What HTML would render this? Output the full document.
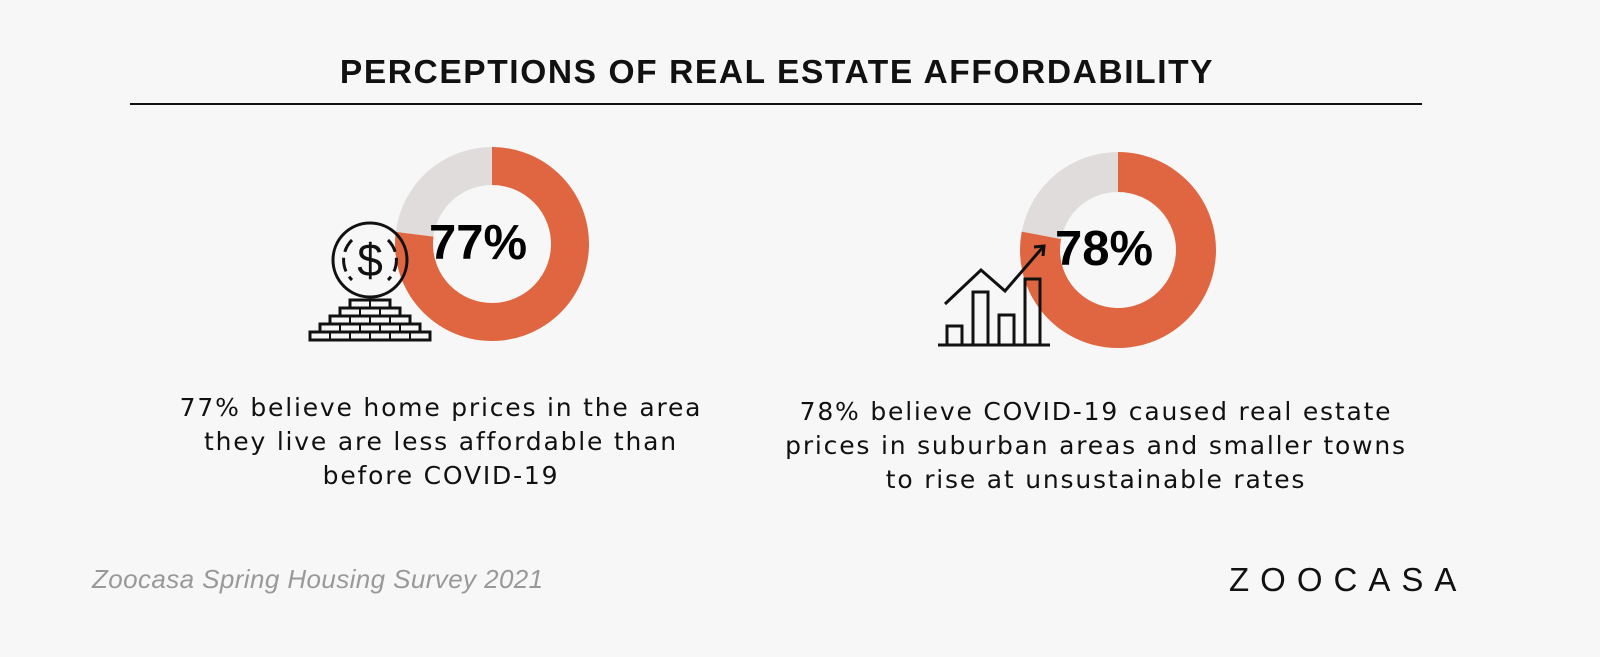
<!DOCTYPE html>
<html><head><meta charset="utf-8"><style>
body{margin:0;width:1600px;height:657px;background:#f7f7f7;font-family:"Liberation Sans",sans-serif;overflow:hidden;position:relative}
.t{position:absolute;text-align:center;color:#111}
.d{font-family:"DejaVu Sans",sans-serif;font-size:25px;letter-spacing:1.8px;line-height:34px}
</style></head><body>
<div class="t" style="left:0;width:1554px;top:54px;font-size:33.5px;font-weight:bold;letter-spacing:1.6px">PERCEPTIONS OF REAL ESTATE AFFORDABILITY</div>
<div style="position:absolute;left:130px;top:103px;width:1292px;height:2px;background:#111"></div>
<svg id="s" width="1600" height="657" style="position:absolute;left:0;top:0">
<g fill="none" stroke="#111" stroke-width="3">
<circle cx="370" cy="260" r="37"/>
<path d="M352 240 A28 28 0 0 0 352 280 M388 240 A28 28 0 0 1 388 280" stroke-dasharray="14 6"/>
<text x="370" y="276" font-size="46" text-anchor="middle" fill="#111" stroke="none" font-family="Liberation Sans">$</text>
<rect x="350" y="300" width="40" height="8"/><rect x="340" y="308" width="60" height="8"/><rect x="330" y="316" width="80" height="8"/><rect x="320" y="324" width="100" height="8"/><rect x="310" y="332" width="120" height="8"/>
<path d="M370 300v8M360 308v8M380 308v8M350 316v8M370 316v8M390 316v8M340 324v8M360 324v8M380 324v8M400 324v8M330 332v8M350 332v8M370 332v8M390 332v8M410 332v8" stroke-width="2"/>
</g>
<g fill="none" stroke="#111" stroke-width="3">
<line x1="938" y1="345" x2="1050" y2="345"/>
<rect x="947" y="326" width="15" height="19"/><rect x="973" y="292" width="15" height="53"/><rect x="999" y="315" width="15" height="30"/><rect x="1025" y="279" width="15" height="66"/>
<polyline points="945,304 981,270 1005,291 1043,247"/><polyline points="1034,247 1044,246 1043,256"/>
</g>
</svg>
<div class="t d" style="left:91px;width:700px;top:391px">77% believe home prices in the area<br>they live are less affordable than<br>before COVID-19</div>
<div class="t d" style="left:696px;width:800px;top:395px">78% believe COVID-19 caused real estate<br>prices in suburban areas and smaller towns<br>to rise at unsustainable rates</div>
<div style="position:absolute;left:92px;top:564px;font-size:26px;letter-spacing:0.4px;font-style:italic;color:#999">Zoocasa Spring Housing Survey 2021</div>
<div style="position:absolute;left:1229px;top:561px;font-size:33px;letter-spacing:11px;color:#111">ZOOCASA</div>
<script>
const labels=["77%","78%"];
const values=[77,78];
const cx=[492,1118],cy=[244,250],R=[97,98],r=[59,58];
const s=document.getElementById('s'),NS="http://www.w3.org/2000/svg";
function pt(x,y,rad,f){const a=f*2*Math.PI-Math.PI/2;return [x+rad*Math.cos(a),y+rad*Math.sin(a)];}
function arc(x,y,Ro,ri,f0,f1){const [a,b]=pt(x,y,Ro,f0),[c,d]=pt(x,y,Ro,f1),[e,g]=pt(x,y,ri,f1),[h,i]=pt(x,y,ri,f0);const L=(f1-f0)>0.5?1:0;
return `M${a} ${b}A${Ro} ${Ro} 0 ${L} 1 ${c} ${d}L${e} ${g}A${ri} ${ri} 0 ${L} 0 ${h} ${i}Z`;}
values.forEach((v,k)=>{
const f=v/100;
const p1=document.createElementNS(NS,'path');p1.setAttribute('d',arc(cx[k],cy[k],R[k],r[k],0,f));p1.setAttribute('fill','#e06641');


s.insertBefore(p1,s.firstChild);
const p2=document.createElementNS(NS,'path');p2.setAttribute('d',arc(cx[k],cy[k],R[k],r[k],f,1));p2.setAttribute('fill','#e0dcdb');


s.insertBefore(p2,s.firstChild);
const t=document.createElementNS(NS,'text');t.setAttribute('x',cx[k]-14);t.setAttribute('y',cy[k]+15);t.setAttribute('text-anchor','middle');
t.setAttribute('font-size','49');t.setAttribute('font-weight','bold');t.setAttribute('font-family','Liberation Sans, sans-serif');t.textContent=labels[k];


s.appendChild(t);
});
</script>
</body></html>
